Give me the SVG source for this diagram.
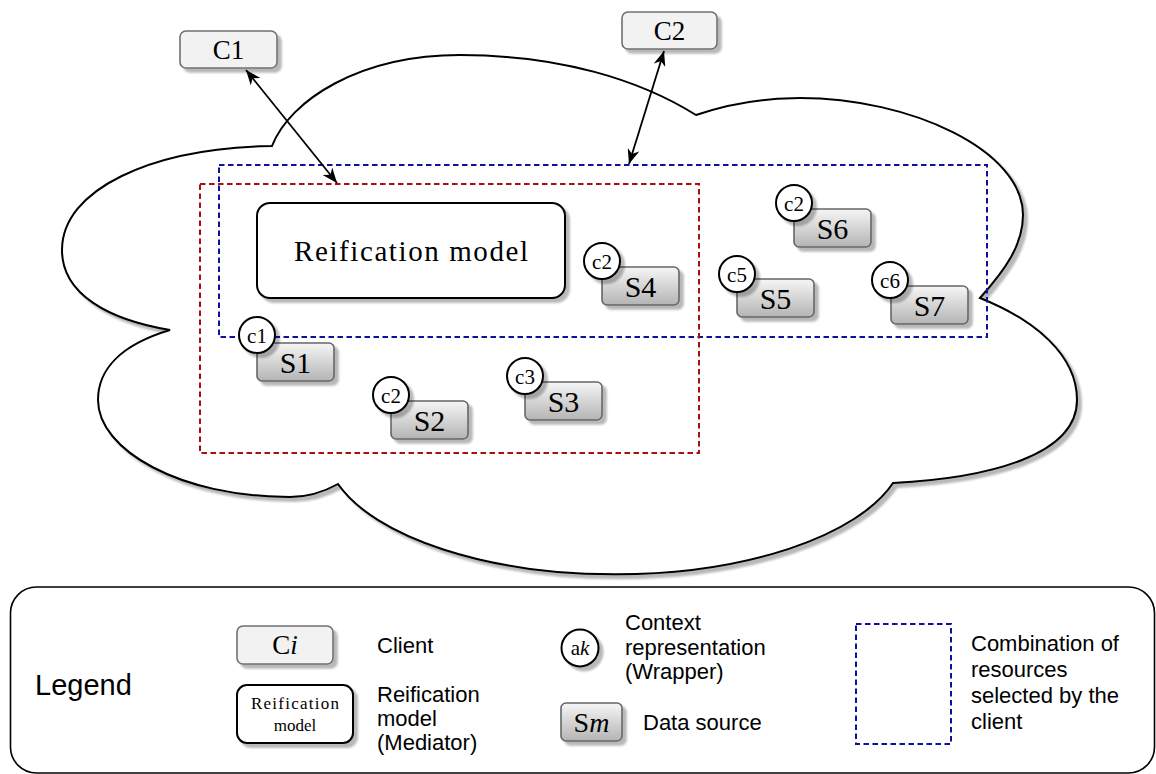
<svg xmlns="http://www.w3.org/2000/svg" width="1156" height="774" viewBox="0 0 1156 774">
<style>
.serif{font-family:"Liberation Serif","DejaVu Serif",serif;fill:#000}
.sans{font-family:"Liberation Sans",Arial,sans-serif;font-size:22px;fill:#000}
.cl{fill:#f2f2f2;stroke:#707070;stroke-width:1.6}
.src{fill:url(#gs);stroke:#666;stroke-width:1.6}
.ctx{fill:#fff;stroke:#000;stroke-width:2}
.sel-b{fill:none;stroke:#10109e;stroke-width:2;stroke-dasharray:5.5 3.5}
.sel-r{fill:none;stroke:#a81010;stroke-width:2;stroke-dasharray:5.5 3.5}
.conn{fill:none;stroke:#000;stroke-width:1.8;marker-start:url(#ah);marker-end:url(#ah)}
.lbl{font-size:30px;text-anchor:middle}
.clbl{font-size:21px;text-anchor:middle}
</style>
<defs>
<linearGradient id="gs" x1="0" y1="0" x2="0" y2="1">
<stop offset="0" stop-color="#f6f6f6"/>
<stop offset="1" stop-color="#b4b4b4"/>
</linearGradient>
<filter id="sh" x="-10%" y="-10%" width="130%" height="130%">
<feGaussianBlur in="SourceAlpha" stdDeviation="1"/>
<feOffset dx="4" dy="4" result="o"/>
<feComponentTransfer><feFuncA type="linear" slope="0.28"/></feComponentTransfer>
<feMerge><feMergeNode/><feMergeNode in="SourceGraphic"/></feMerge>
</filter>
<marker id="ah" viewBox="0 0 15 12" refX="15" refY="6" markerWidth="15" markerHeight="12" markerUnits="userSpaceOnUse" orient="auto-start-reverse">
<path d="M0,0 L15,6 L0,12 L4.5,6 z" fill="#000"/>
</marker>
</defs>

<g id="cloud">
<path filter="url(#sh)" fill="#fff" stroke="#000" stroke-width="2" stroke-linejoin="miter" d="M 272,146 C 290,100 360,55 460,55 C 560,55 640,80 696,115 C 725,105 760,98 800,98 C 910,98 1023,150 1023,215 C 1023,245 1005,270 980,298 C 1035,320 1077,355 1077,400 C 1077,455 990,478 893,483 A 290 128 0 0 1 338,484 C 320,494 305,497 290,497 C 180,497 98,450 98,400 C 98,370 120,345 170,330 C 110,320 62,295 62,250 C 62,190 150,148 272,146 Z"/>
</g>

<g id="selections">
<rect class="sel-b" x="219" y="165" width="768" height="172"/>
<rect class="sel-r" x="200" y="184" width="499" height="269"/>
</g>

<g id="connectors">
<line class="conn" x1="246" y1="70" x2="337" y2="183"/>
<line class="conn" x1="664" y1="51" x2="629" y2="164"/>
</g>

<g id="C1">
<rect class="cl" filter="url(#sh)" x="180" y="31" width="97" height="37" rx="6"/>
<text class="serif" x="228.5" y="59" font-size="27" text-anchor="middle">C1</text>
</g>
<g id="C2">
<rect class="cl" filter="url(#sh)" x="622" y="12" width="95" height="37" rx="6"/>
<text class="serif" x="669.5" y="40" font-size="27" text-anchor="middle">C2</text>
</g>

<g id="reification">
<rect class="ctx" filter="url(#sh)" x="257" y="203" width="308" height="95" rx="13"/>
<text class="serif" x="411" y="261" font-size="29" text-anchor="middle" textLength="234" lengthAdjust="spacing">Reification model</text>
</g>

<g id="S1">
<rect class="src" filter="url(#sh)" x="257" y="343" width="77" height="38" rx="5"/>
<text class="serif lbl" x="295.5" y="373">S1</text>
<circle class="ctx" filter="url(#sh)" cx="257" cy="335" r="18"/>
<text class="serif clbl" x="257" y="342.5">c1</text>
</g>
<g id="S2">
<rect class="src" filter="url(#sh)" x="391" y="401" width="77" height="38" rx="5"/>
<text class="serif lbl" x="429.5" y="431">S2</text>
<circle class="ctx" filter="url(#sh)" cx="391" cy="395" r="18"/>
<text class="serif clbl" x="391" y="402.5">c2</text>
</g>
<g id="S3">
<rect class="src" filter="url(#sh)" x="525" y="382" width="77" height="38" rx="5"/>
<text class="serif lbl" x="563.5" y="412">S3</text>
<circle class="ctx" filter="url(#sh)" cx="525" cy="376" r="18"/>
<text class="serif clbl" x="525" y="383.5">c3</text>
</g>
<g id="S4">
<rect class="src" filter="url(#sh)" x="602" y="267" width="77" height="38" rx="5"/>
<text class="serif lbl" x="640.5" y="297">S4</text>
<circle class="ctx" filter="url(#sh)" cx="602" cy="261" r="18"/>
<text class="serif clbl" x="602" y="268.5">c2</text>
</g>
<g id="S5">
<rect class="src" filter="url(#sh)" x="737" y="279" width="77" height="38" rx="5"/>
<text class="serif lbl" x="775.5" y="309">S5</text>
<circle class="ctx" filter="url(#sh)" cx="737" cy="274" r="18"/>
<text class="serif clbl" x="737" y="281.5">c5</text>
</g>
<g id="S6">
<rect class="src" filter="url(#sh)" x="794" y="209" width="77" height="38" rx="5"/>
<text class="serif lbl" x="832.5" y="239">S6</text>
<circle class="ctx" filter="url(#sh)" cx="794" cy="203" r="18"/>
<text class="serif clbl" x="794" y="210.5">c2</text>
</g>
<g id="S7">
<rect class="src" filter="url(#sh)" x="891" y="286" width="77" height="38" rx="5"/>
<text class="serif lbl" x="929.5" y="316">S7</text>
<circle class="ctx" filter="url(#sh)" cx="890" cy="280" r="18"/>
<text class="serif clbl" x="890" y="287.5">c6</text>
</g>

<g id="legend">
<rect x="10.5" y="587" width="1144" height="186" rx="26" fill="#fff" stroke="#000" stroke-width="1.6"/>
<text class="sans" x="35" y="695" style="font-size:29px">Legend</text>

<rect class="cl" filter="url(#sh)" x="237" y="626" width="96" height="38" rx="6"/>
<text class="serif" x="285" y="654" font-size="27" text-anchor="middle">C<tspan font-style="italic">i</tspan></text>
<text class="sans" x="377" y="653">Client</text>

<rect class="ctx" filter="url(#sh)" x="237" y="685" width="116" height="58" rx="10"/>
<text class="serif" x="295" y="709" font-size="17" text-anchor="middle" textLength="88" lengthAdjust="spacing">Reification</text>
<text class="serif" x="295" y="731" font-size="17" text-anchor="middle">model</text>
<text class="sans" x="377" y="702">Reification</text>
<text class="sans" x="377" y="726">model</text>
<text class="sans" x="377" y="750">(Mediator)</text>

<circle class="ctx" filter="url(#sh)" cx="580" cy="648" r="18.5"/>
<text class="serif" x="580" y="655" font-size="21" text-anchor="middle">a<tspan font-style="italic">k</tspan></text>
<text class="sans" x="625" y="630">Context</text>
<text class="sans" x="625" y="655">representation</text>
<text class="sans" x="625" y="679">(Wrapper)</text>

<rect class="src" filter="url(#sh)" x="561" y="703" width="61" height="38" rx="5"/>
<text class="serif" x="591.5" y="732" font-size="28" text-anchor="middle">S<tspan font-style="italic">m</tspan></text>
<text class="sans" x="643" y="730">Data source</text>

<rect class="sel-b" x="856" y="624" width="95" height="120"/>
<text class="sans" x="971" y="651">Combination of</text>
<text class="sans" x="971" y="677">resources</text>
<text class="sans" x="971" y="703">selected by the</text>
<text class="sans" x="971" y="729">client</text>
</g>
</svg>
